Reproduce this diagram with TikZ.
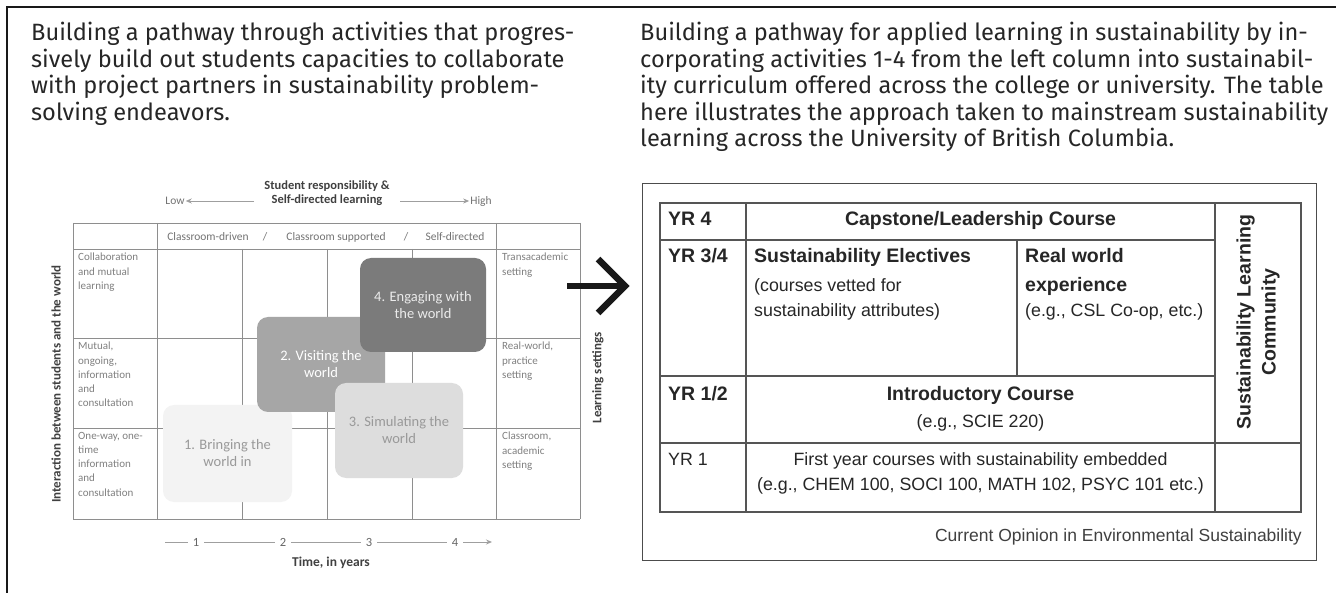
\documentclass[tikz,border=0pt]{standalone}
\usepackage{fontspec}
\setmainfont{Fira Sans}
\newfontfamily\tabfont{Liberation Sans}
\newfontfamily\figfont{Carlito}
\usetikzlibrary{arrows.meta}
\definecolor{gridc}{HTML}{8E8E8E}
\definecolor{tabline}{HTML}{555555}
\definecolor{boxA}{HTML}{F3F3F3}
\definecolor{boxB}{HTML}{A6A6A6}
\definecolor{boxC}{HTML}{DDDDDD}
\definecolor{boxD}{HTML}{7B7B7B}
\begin{document}
\begin{tikzpicture}[x=1pt,y=-1pt,
  frame/.style={line width=1.8pt, draw=black!90},
  para/.style={font=\fontsize{23.6}{26.5}\selectfont, text=black!85, align=left, inner sep=0, anchor=north west},
  gridline/.style={draw=gridc, line width=0.9pt},
  hdrtxt/.style={font=\figfont\bfseries\fontsize{12.5}{14.5}\selectfont, text=black!75, align=center, inner sep=1pt},
  figtxt/.style={font=\figfont\fontsize{11.5}{13}\selectfont, text=black!55, inner sep=1pt},
  rowlabel/.style={font=\figfont\fontsize{11}{14.2}\selectfont, text=black!50, align=left, anchor=north west, inner sep=0},
  sidelabel/.style={font=\figfont\bfseries\fontsize{13}{15}\selectfont, text=black!75, rotate=90, inner sep=0},
  actbox/.style={rounded corners=11pt, inner sep=0, align=center, font=\figfont\fontsize{14.5}{17}\selectfont},
  garrow/.style={draw=gray!75, line width=0.9pt, -{Stealth[length=6pt,width=5pt]}},
  axisline/.style={draw=gray!75, line width=0.9pt},
  axisnum/.style={font=\figfont\fontsize{12.5}{14}\selectfont, text=black!60, inner sep=5pt},
  bigarrow/.style={line width=6.5pt, draw=black!90, line join=miter},
  tabframe/.style={draw=tabline, line width=1.3pt},
  tb/.style={font=\tabfont\fontsize{17.8}{22}\selectfont, text=black!85, inner sep=0, text height=12.9pt, text depth=3.8pt},
  tbb/.style={tb, font=\tabfont\bfseries\fontsize{19.5}{22}\selectfont, text height=14pt, text depth=4pt}
]
\useasboundingbox (0,0) rectangle (1336,593);
\fill[white] (0,0) rectangle (1336,593);

% outer frame
\coordinate (fTL) at (7,7);
\coordinate (fTR) at (1336,7);
\coordinate (fBL) at (7,593);
\draw[frame] (fTR) -- (fTL) -- (fBL);

% paragraphs
\node[para] (ptL) at (31,22) {Building a pathway through activities that progres-\\sively build out students capacities to collaborate\\with project partners in sustainability problem-\\solving endeavors.};
\node[para] (ptR) at (640,22) {Building a pathway for applied learning in sustainability by in-\\corporating activities 1-4 from the left column into sustainabil-\\ity curriculum offered across the college or university. The table\\here illustrates the approach taken to mainstream sustainability\\learning across the University of British Columbia.};

% ---------- left figure ----------
\node[hdrtxt] (srl) at (327,193) {Student responsibility \&\\Self-directed learning};
\node[figtxt] (low) at (175,201) {Low};
\node[figtxt] (high) at (481,201) {High};
\coordinate (la1) at (254,201);
\coordinate (ra1) at (400,201);
\draw[garrow] (la1) -- (low.east);
\draw[garrow] (ra1) -- (high.west);

% grid
\draw[gridline] (73,223) -- (580,223);
\draw[gridline] (73,249) -- (580,249);
\draw[gridline] (73,338) -- (580,338);
\draw[gridline] (73,428) -- (580,428);
\draw[gridline] (73,519) -- (580,519);
\draw[gridline] (73,223) -- (73,519);
\draw[gridline] (157,223) -- (157,519);
\draw[gridline] (496,223) -- (496,519);
\draw[gridline] (580,223) -- (580,519);
\draw[gridline] (242,249) -- (242,519);
\draw[gridline] (327,249) -- (327,519);
\draw[gridline] (412,249) -- (412,519);

\node[figtxt] (h1) at (208,237) {Classroom-driven};
\node[figtxt] (s1) at (265,237) {/};
\node[figtxt] (h2) at (336,237) {Classroom supported};
\node[figtxt] (s2) at (406,237) {/};
\node[figtxt] (h3) at (455,237) {Self-directed};

\node[rowlabel] (r1) at (78,253) {Collaboration\\and mutual\\learning};
\node[rowlabel] (r2) at (78,342) {Mutual,\\ongoing,\\information\\and\\consultation};
\node[rowlabel] (r3) at (78,432) {One-way, one-\\time\\information\\and\\consultation};
\node[rowlabel] (c1) at (502,253) {Transacademic\\setting};
\node[rowlabel] (c2) at (502,342) {Real-world,\\practice\\setting};
\node[rowlabel] (c3) at (502,432) {Classroom,\\academic\\setting};

\node[sidelabel] (inter) at (56,384) {Interaction between students and the world};
\node[sidelabel] (lset) at (598,378) {Learning settings};

% activity boxes
\node[actbox, fill=boxA, text=black!40, minimum width=129pt, minimum height=97pt] (b1) at (227.5,453.5) {1. Bringing the\\world in};
\node[actbox, fill=boxB, text=white, minimum width=128pt, minimum height=95pt] (b2) at (321,364.5) {2. Visiting the\\world};
\node[actbox, fill=boxD, text=black!8, minimum width=126pt, minimum height=94pt] (b4) at (423,305) {4. Engaging with\\the world};
\node[actbox, fill=boxC, text=black!40, minimum width=128pt, minimum height=95pt] (b3) at (399,430.5) {3. Simulating the\\world};

% time axis
\coordinate (ax0) at (165,542);
\coordinate (ax5) at (492,542);
\node[axisnum] (n1) at (196,542) {1};
\node[axisnum] (n2) at (283,542) {2};
\node[axisnum] (n3) at (369,542) {3};
\node[axisnum] (n4) at (455,542) {4};
\draw[axisline] (ax0) -- (n1);
\draw[axisline] (n1) -- (n2);
\draw[axisline] (n2) -- (n3);
\draw[axisline] (n3) -- (n4);
\draw[garrow] (n4) -- (ax5);
\node[hdrtxt, font=\figfont\bfseries\fontsize{13.5}{15}\selectfont] (time) at (331,563) {Time, in years};

% big arrow
\coordinate (ar1) at (567,286);
\coordinate (ar2) at (625,286);
\draw[bigarrow] (ar1) -- ([xshift=-4pt]ar2);
\draw[bigarrow] ([shift={(-27,-27)}]ar2) -- (ar2) -- ([shift={(-27,27)}]ar2);

% ---------- right table ----------
\node[draw=black!70, line width=1.3pt, minimum width=674pt, minimum height=377pt, anchor=north west, inner sep=0] (rbox) at (642,183) {};
\draw[tabframe] (660,203) rectangle (1301,512);
\draw[tabframe] (660,240) -- (1215,240);
\draw[tabframe] (660,376) -- (1215,376);
\draw[tabframe] (660,443) -- (1301,443);
\draw[tabframe] (746,203) -- (746,512);
\draw[tabframe] (1215,203) -- (1215,512);
\draw[tabframe] (1017,240) -- (1017,376);

\node[tbb, anchor=west] (yr4) at (668,221) {YR 4};
\node[tbb] (cap) at (980.5,221) {Capstone/Leadership Course};
\node[tbb, anchor=west] (yr34) at (668,258) {YR 3/4};
\node[tbb, anchor=west] (se) at (754,258) {Sustainability Electives};
\node[tb, anchor=west] (se2) at (754,287) {(courses vetted for};
\node[tb, anchor=west] (se3) at (754,312) {sustainability attributes)};
\node[tbb, anchor=west] (rw) at (1025,258) {Real world};
\node[tbb, anchor=west] (rw2) at (1025,287) {experience};
\node[tb, anchor=west] (rw3) at (1025,312) {(e.g., CSL Co-op, etc.)};
\node[tbb, anchor=west] (yr12) at (668,395) {YR 1/2};
\node[tbb] (intro) at (980.5,395) {Introductory Course};
\node[tb] (intro2) at (980.5,423) {(e.g., SCIE 220)};
\node[tb, anchor=west] (yr1) at (668,461) {YR 1};
\node[tb] (fy) at (980.5,461) {First year courses with sustainability embedded};
\node[tb] (fy2) at (980.5,486) {(e.g., CHEM 100, SOCI 100, MATH 102, PSYC 101 etc.)};
\node[tbb, rotate=90, align=center, text height=, text depth=, font=\tabfont\bfseries\fontsize{19.5}{25}\selectfont] (slc) at (1258,322) {Sustainability Learning\\Community};
\node[tb, anchor=east, font=\tabfont\fontsize{17.5}{20}\selectfont, text=black!75] (cite) at (1302,537) {Current Opinion in Environmental Sustainability};
\end{tikzpicture}
\end{document}
